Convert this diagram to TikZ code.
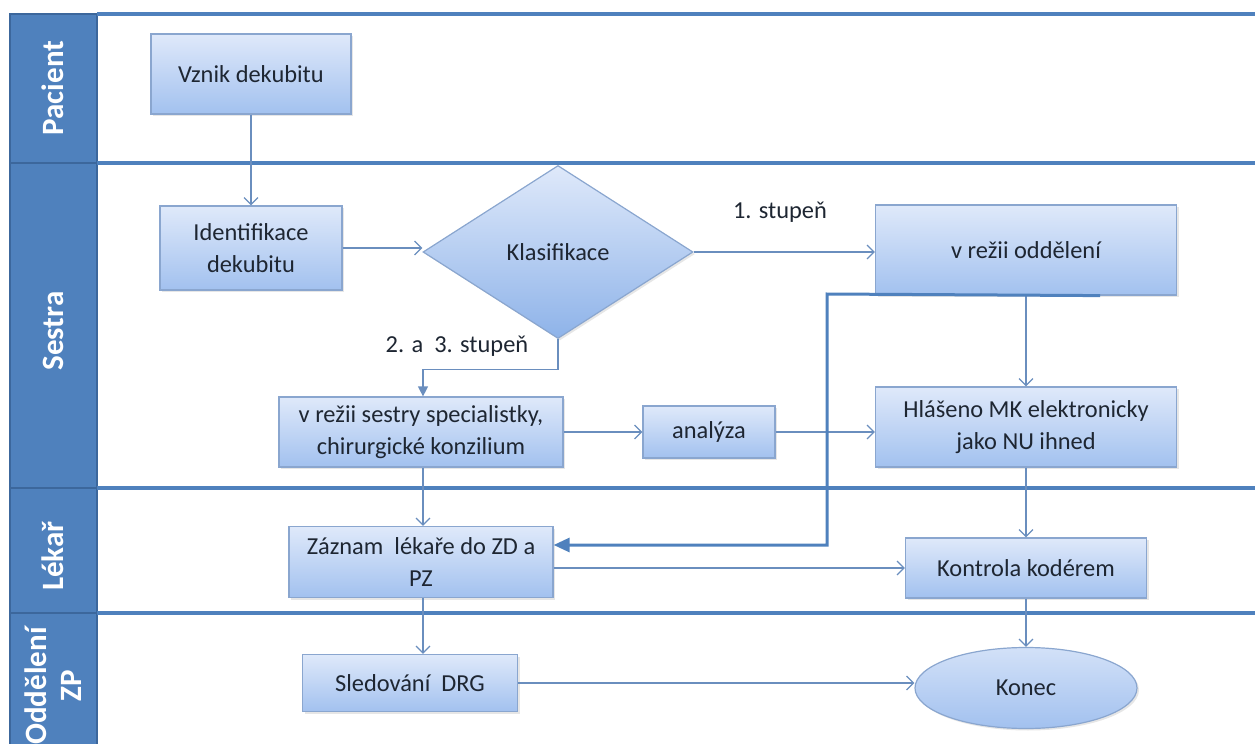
\documentclass[tikz,border=0pt]{standalone}
\usepackage{fontspec}
\setmainfont{Carlito}
\usetikzlibrary{shapes.geometric,arrows.meta,shadows}
\definecolor{lanecol}{HTML}{4F81BD}
\definecolor{laneedge}{HTML}{3C679C}
\definecolor{boxtop}{HTML}{DFE9FA}
\definecolor{boxbot}{HTML}{A2C1EF}
\definecolor{diabot}{HTML}{8EB3E9}
\definecolor{boxedge}{HTML}{8AA6CF}
\definecolor{linkcol}{HTML}{6A8EBE}
\definecolor{txtcol}{HTML}{1E2632}
\begin{document}
\begin{tikzpicture}[x=0.5pt,y=-0.5pt,
  lanetitle/.style={rotate=90,text=white,font=\fontsize{15.5}{17.5}\selectfont\bfseries,align=center},
  laneline/.style={draw=lanecol,line width=1.6pt},
  task/.style={draw=boxedge,line width=0.6pt,top color=boxtop,bottom color=boxbot,text=txtcol,
    font=\fontsize{12.2}{16}\selectfont,align=center,inner sep=0pt,
    drop shadow={opacity=0.2,shadow xshift=1pt,shadow yshift=-1pt}},
  decision/.style={task,diamond,top color=boxtop,bottom color=diabot},
  endnode/.style={task,ellipse,top color=boxtop!80!boxbot,bottom color=boxbot},
  lbl/.style={text=txtcol,font=\fontsize{12.2}{14}\selectfont,inner sep=0pt},
  flow/.style={draw=linkcol,line width=0.6pt,-{Straight Barb[length=3.5pt,width=7pt]}},
  backflow/.style={draw=lanecol,line width=1.5pt,-{Triangle[length=8pt,width=7pt]}}]
  \useasboundingbox (0,0) rectangle (1255,744);

  % lanes
  \fill[lanecol] (10,14) rectangle (97,760);
  \draw[laneedge,line width=1.2pt] (10,760) -- (10,14) -- (97,14) -- (97,760);
  \foreach \y in {163,488,613}
    \draw[laneedge,line width=1.2pt] (10,\y) -- (97,\y);
  \foreach \y in {14,163,488,613}
    \draw[laneline] (97,\y) -- (1255,\y);

  \node[lanetitle] (pacient) at (53,88) {Pacient};
  \node[lanetitle] (sestra) at (53,331) {Sestra};
  \node[lanetitle] (lekar) at (53,556) {Lékař};
  \node[lanetitle] (oddzp) at (53,686) {Oddělení\\ZP};

  % steps
  \node[task,minimum width=100pt,minimum height=40pt] (vznik) at (251,74) {Vznik dekubitu};
  \node[task,minimum width=91pt,minimum height=42pt] (ident) at (251,248) {Identifikace\\dekubitu};
  \node[decision,minimum width=135pt,minimum height=86.5pt] (klas) at (558,252) {Klasifikace};
  \node[task,minimum width=150.5pt,minimum height=45pt] (oddel) at (1026,250) {v režii oddělení};
  \node[task,minimum width=142pt,minimum height=35pt] (sestry) at (421,432) {v režii sestry specialistky,\\chirurgické konzilium};
  \node[task,minimum width=66pt,minimum height=26pt] (analyza) at (709,432) {analýza};
  \node[task,minimum width=150.5pt,minimum height=40pt] (hlaseno) at (1026,427) {Hlášeno MK elektronicky\\jako NU ihned};
  \node[task,minimum width=132pt,minimum height=35.5pt] (zaznam) at (421,562) {Záznam\ \ lékaře do ZD a\\PZ};
  \node[task,minimum width=120.5pt,minimum height=30pt] (kontrola) at (1026,568) {Kontrola kodérem};
  \node[task,minimum width=107.5pt,minimum height=28.5pt] (sledovani) at (410,683) {Sledování\ \ DRG};
  \node[endnode,minimum width=111pt,minimum height=40.5pt] (konec) at (1026,688) {Konec};

  \node[lbl] (st1) at (780,212) {1. stupeň};
  \node[lbl] (st23) at (457,346) {2. a\ \ 3. stupeň};
  \coordinate (bend) at (827,294);

  % links
  \draw[flow] (vznik) -- (ident);
  \draw[flow] (ident.east) -- (ident.east -| klas.west);
  \draw[flow] (klas.east) -- (klas.east -| oddel.west);
  \draw[draw=linkcol,line width=0.6pt,-{Triangle[length=5pt,width=5pt]}] (klas.south) -- ++(0,30) -| ([xshift=1pt]sestry.north);
  \draw[flow] (oddel) -- (hlaseno);
  \draw[flow] (sestry) -- (analyza);
  \draw[flow] (analyza.east) -- (analyza.east -| hlaseno.west);
  \draw[backflow] ([xshift=-38.5pt]oddel.south east) -- (bend) |- ([yshift=8.5pt]zaznam.east);
  \draw[flow] ([xshift=1pt]sestry.south) -- ([xshift=1pt]zaznam.north);
  \draw[flow] ([yshift=-3pt]zaznam.east) -- ([yshift=-3pt]zaznam.east -| kontrola.west);
  \draw[flow] (hlaseno) -- (kontrola);
  \draw[flow] ([xshift=1pt]zaznam.south) -- ([xshift=1pt]zaznam.south |- sledovani.north);
  \draw[flow] (kontrola) -- (konec);
  \draw[flow] (sledovani.east) -- (sledovani.east -| konec.west);
\end{tikzpicture}
\end{document}
